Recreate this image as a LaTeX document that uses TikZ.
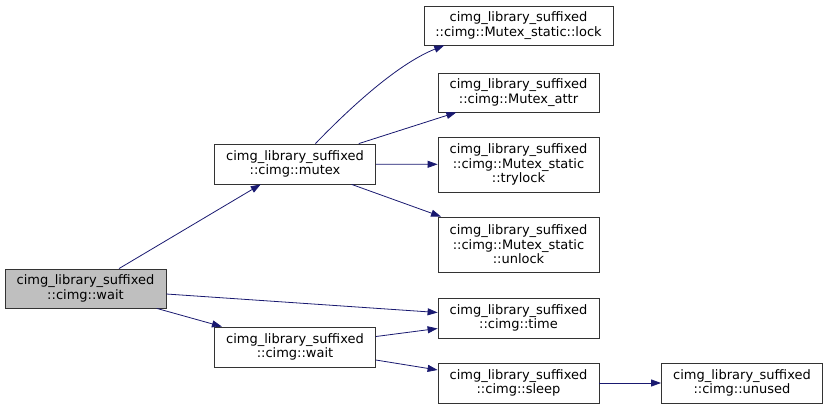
\documentclass[tikz,border=0pt]{standalone}
\usepackage{fontspec}
\setmainfont{DejaVu Sans}
\usetikzlibrary{arrows.meta}
\definecolor{edgeblue}{HTML}{191970}
\definecolor{rootgray}{HTML}{BFBFBF}
\begin{document}
\begin{tikzpicture}[x=1pt,y=-1pt,
    fn/.style={draw=black!80, line width=0.8pt, fill=white, align=center,
      inner sep=0pt, minimum width=161pt, minimum height=39pt,
      font=\fontsize{13}{14.5}\selectfont},
    call/.style={draw=edgeblue, line width=0.8pt,
      -{Triangle[length=10pt,width=7pt]}}]
    \useasboundingbox (0,0) rectangle (828,409);
    % left column
    \node[fn, fill=rootgray] (wait) at (85.5,288.5) {cimg\_library\_suffixed\\::cimg::wait};
    \node[fn, minimum height=40pt] (mutex) at (295,164) {cimg\_library\_suffixed\\::cimg::mutex};
    \node[fn, minimum height=40pt] (waitb) at (295,347) {cimg\_library\_suffixed\\::cimg::wait};
    % right column
    \node[fn, minimum width=189pt] (lock) at (518.5,25.5) {cimg\_library\_suffixed\\::cimg::Mutex\_static::lock};
    \node[fn] (attr) at (518.5,92.5) {cimg\_library\_suffixed\\::cimg::Mutex\_attr};
    \node[fn, minimum height=55pt] (trylock) at (518.5,164.5) {cimg\_library\_suffixed\\::cimg::Mutex\_static\\::trylock};
    \node[fn, minimum height=55pt] (unlock) at (518.5,244.5) {cimg\_library\_suffixed\\::cimg::Mutex\_static\\::unlock};
    \node[fn, minimum height=40pt] (time) at (518.5,318) {cimg\_library\_suffixed\\::cimg::time};
    \node[fn, minimum height=40pt] (sleep) at (518.5,383) {cimg\_library\_suffixed\\::cimg::sleep};
    \node[fn, minimum height=40pt] (unused) at (742,383) {cimg\_library\_suffixed\\::cimg::unused};
    % calls
    \foreach \a/\b in {wait/mutex, wait/time, wait/waitb, mutex/attr, mutex/trylock,
        mutex/unlock, waitb/time, waitb/sleep, sleep/unused}{
        \draw[call] (\a) -- (\b);
    }
    \draw[call] (mutex.45) .. controls (345,113) and (395,65) .. (lock.195.5);
\end{tikzpicture}
\end{document}
